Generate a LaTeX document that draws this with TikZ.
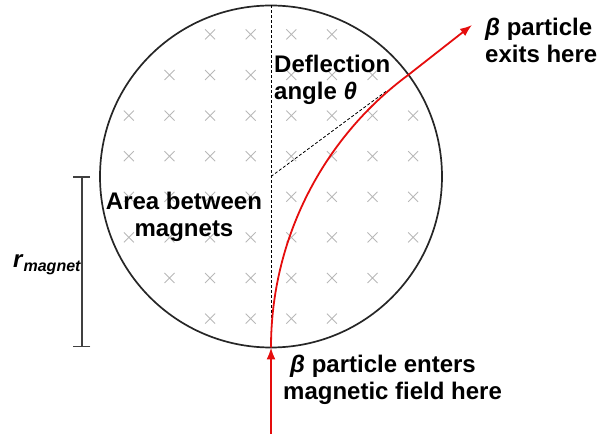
\documentclass[tikz,border=0pt]{standalone}
\usepackage{fontspec}
\setmainfont{Liberation Sans}
\usetikzlibrary{arrows.meta,calc,positioning}
\definecolor{crossgray}{rgb}{0.72,0.72,0.72}
\definecolor{beamred}{rgb}{0.9,0.05,0.05}

\begin{document}
\begin{tikzpicture}[x=1pt,y=1pt,
    lbl/.style={font=\fontsize{24}{27.3}\selectfont\bfseries, inner sep=0pt},
    beam/.style={beamred, line width=1.8pt},
    guide/.style={line width=0.8pt, dash pattern=on 3pt off 2pt},
    cross/.style={crossgray, line width=0.9pt}]
    \def\r{171}
    \def\ang{36.5}
    \def\gap{40.6}
    \pgfmathsetmacro\R{\r*(1+sin(\ang))/cos(\ang)}
    \useasboundingbox (-271,-258.5) rectangle (328,176.5);
    \coordinate (c) at (0,0);
    \coordinate (top) at (0,\r);
    \coordinate (bot) at (0,-\r);
    \coordinate (src) at (0,-257);
    \coordinate (tip) at (201,151.5);
    \coordinate (mark) at (\ang:145);
    \coordinate (rtop) at (-189,0);
    \coordinate (rbot) at (-189,-\r);
    %Field crosses
    \foreach \i in {-3.5,-2.5,...,3.5}{
        \foreach \j in {-3.5,-2.5,...,3.5}{
            \pgfmathtruncatemacro\inside{veclen(\i,\j)<4}
            \ifnum\inside=1
                \draw[cross] (\gap*\i,\gap*\j) +(-5,-5) -- +(5,5) +(-5,5) -- +(5,-5);
            \fi
        }
    }
    %Magnet area
    \draw[line width=1.7pt, black!85] (c) circle (\r);
    %Guides
    \draw[guide] (top) -- (bot);
    \draw[guide] (c) -- (mark);
    %Beam
    \draw[beam, -{Latex[length=12pt,width=9pt]}] (src) -- (bot);
    \draw[beam, -{Latex[length=12pt,width=9pt]}] (bot) arc[start angle=180, end angle=90+\ang, radius=\R] -- (tip);
    %Radius bar
    \draw[line width=1.1pt, black!75, {Bar[width=17pt]}-{Bar[width=17pt]}] (rtop) -- (rbot);

    %Labels (base = last line)
    \node[lbl, anchor=base west, align=left] (defl) at (3,76.5) {Deflection\\angle \textit{θ}};
    \node[lbl, anchor=base, align=center] (area) at (-87,-60.5) {Area between\\magnets};
    \node[lbl, anchor=base west, align=left] (exits) at (214,113.5) {\textit{β} particle\\exits here};
    \node[lbl, anchor=base west, align=left] (enters) at (12,-223.5) {\hspace*{7pt}\textit{β} particle enters\\magnetic field here};
    \node[lbl, anchor=base west] (rlbl) at (-258,-91.5) {\textit{r}\raisebox{-4pt}{\fontsize{16}{16}\selectfont\textit{magnet}}};
\end{tikzpicture}
\end{document}
